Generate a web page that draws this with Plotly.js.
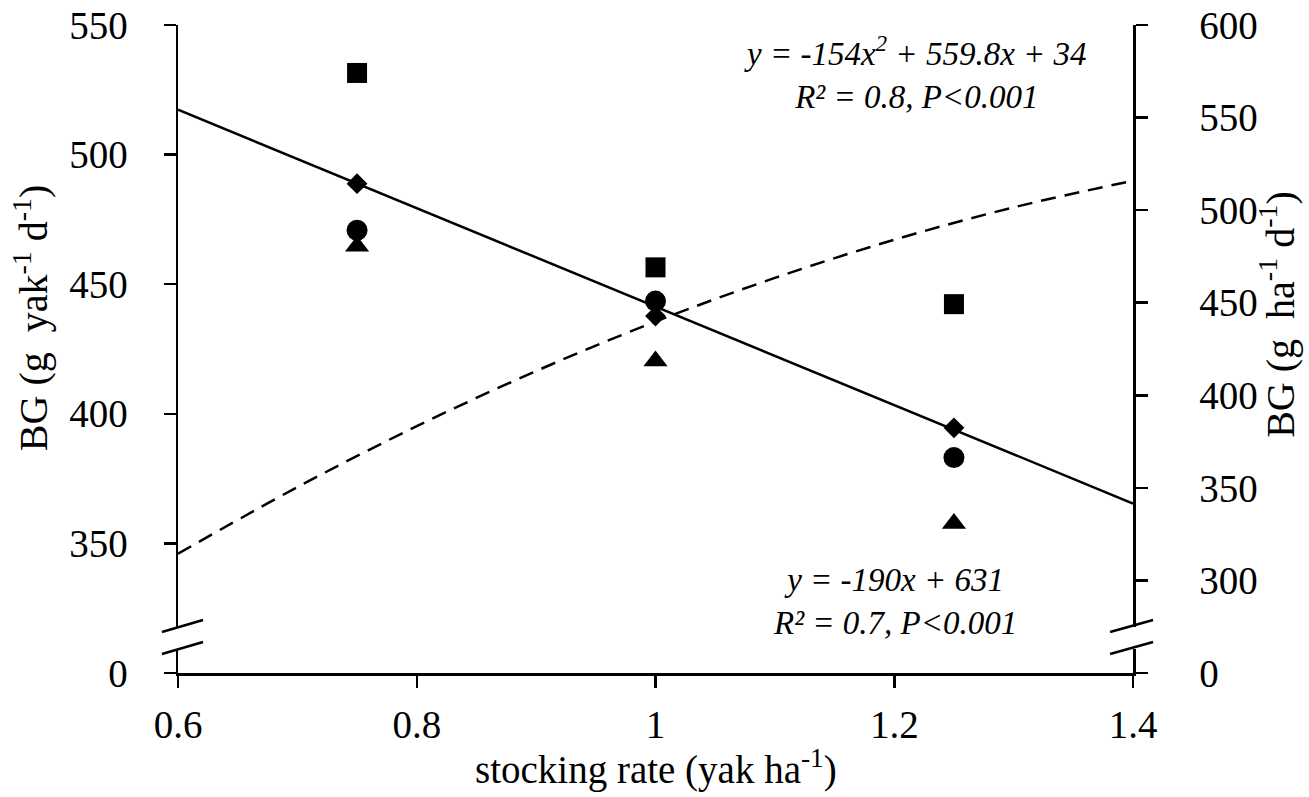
<!DOCTYPE html>
<html>
<head>
<meta charset="utf-8">
<script src="https://cdn.plot.ly/plotly-3.0.1.min.js"></script>
<style>html,body{margin:0;padding:0;background:#fff;}#chart{width:1309px;height:797px;}</style>
</head>
<body>
<div id="chart"></div>
<script>
// ---- data ----
const stockingRate = [0.75, 1.0, 1.25];
const squareVals   = [531.5, 456.5, 442.3];
const diamondVals  = [488.8, 437.7, 394.6];
const circleVals   = [470.8, 443.5, 383.1];
const triangleVals = [464.6, 420.4, 357.7];

// linear fit (left axis), read at ends of x range
const linFitX = [0.6, 1.4];
const linFitY = [517.3, 365.4];

// quadratic fit (right axis)
const quadFitX = [0.6, 0.7, 0.8, 0.9, 1.0, 1.1, 1.2, 1.3, 1.4];
const quadFitY = [314.4, 350.4, 383.3, 413.1, 439.8, 463.4, 484.0, 501.5, 515.9];

const xTickVals = [0.6, 0.8, 1.0, 1.2, 1.4];
const xTickText = ["0.6", "0.8", "1", "1.2", "1.4"];
const yLeftTickVals = [300, 350, 400, 450, 500, 550];
const yLeftTickText = ["0", "350", "400", "450", "500", "550"];
const yRightTickVals = [250, 300, 350, 400, 450, 500, 550, 600];
const yRightTickText = ["0", "300", "350", "400", "450", "500", "550", "600"];

const FONT = "Liberation Serif, Times New Roman, serif";
const TICK = 39, TITLE = 40, ANN = 33;

const traces = [
  {x: linFitX, y: linFitY, mode: 'lines', line: {color: '#000', width: 2.5}, yaxis: 'y', hoverinfo: 'skip'},
  {x: quadFitX, y: quadFitY, mode: 'lines', line: {color: '#000', width: 2.5, dash: '15px,9px', shape: 'spline'}, yaxis: 'y2', hoverinfo: 'skip'},
  {x: stockingRate, y: squareVals, mode: 'markers', marker: {symbol: 'square', size: 20, color: '#000'}, yaxis: 'y'},
  {x: stockingRate, y: diamondVals, mode: 'markers', marker: {symbol: 'diamond', size: 16, color: '#000'}, yaxis: 'y'},
  {x: stockingRate, y: circleVals, mode: 'markers', marker: {symbol: 'circle', size: 21, color: '#000'}, yaxis: 'y'},
  {x: stockingRate, y: triangleVals, mode: 'markers', marker: {symbol: 'triangle-up', size: 21, color: '#000'}, yaxis: 'y'}
];

const brk = (x0, x1) => [
  {type: 'rect', xref: 'paper', yref: 'paper', x0: x0 + 0.012, x1: x1 - 0.012, y0: 0.037, y1: 0.071, fillcolor: '#fff', line: {width: 0}, layer: 'above'},
  {type: 'line', xref: 'paper', yref: 'paper', x0: x0, x1: x1, y0: 0.0633, y1: 0.0818, line: {color: '#000', width: 2.5}, layer: 'above'},
  {type: 'line', xref: 'paper', yref: 'paper', x0: x0, x1: x1, y0: 0.0293, y1: 0.0478, line: {color: '#000', width: 2.5}, layer: 'above'}
];

const axisCommon = {
  showgrid: false, zeroline: false, showline: true, linecolor: '#000', linewidth: 2.5,
  ticks: 'outside', ticklen: 12, tickwidth: 2.5, tickcolor: '#000',
  tickfont: {family: FONT, size: TICK, color: '#000'}
};

const layout = {
  width: 1309, height: 797,
  margin: {l: 178, r: 176, t: 25, b: 124},
  paper_bgcolor: '#fff', plot_bgcolor: '#fff',
  showlegend: false,
  font: {family: FONT, color: '#000', size: TICK},
  xaxis: Object.assign({}, axisCommon, {
    range: [0.6, 1.4], tickvals: xTickVals, ticktext: xTickText, ticklabelstandoff: 4
  }),
  yaxis: Object.assign({}, axisCommon, {
    range: [300, 550], tickvals: yLeftTickVals, ticktext: yLeftTickText, ticklabelstandoff: 28
  }),
  yaxis2: Object.assign({}, axisCommon, {
    range: [250, 600], tickvals: yRightTickVals, ticktext: yRightTickText,
    overlaying: 'y', side: 'right', ticklabelstandoff: 44
  }),
  shapes: [...brk(-0.0168, 0.0262), ...brk(0.976, 1.021)],
  annotations: [
    {xref: 'paper', yref: 'paper', x: -0.154, y: 0.549, xanchor: 'center', yanchor: 'middle', text: 'BG (g  yak<sup>-1</sup> d<sup>-1</sup>)', textangle: -90, showarrow: false, font: {family: FONT, size: TITLE, color: '#000'}},
    {xref: 'paper', yref: 'paper', x: 1.152, y: 0.553, xanchor: 'center', yanchor: 'middle', text: 'BG (g  ha<sup>-1</sup> d<sup>-1</sup>)', textangle: -90, showarrow: false, font: {family: FONT, size: TITLE, color: '#000'}},
    {xref: 'paper', yref: 'paper', x: 0.5, y: -0.146, xanchor: 'center', yanchor: 'middle', text: 'stocking rate (yak ha<sup>-1</sup>)', showarrow: false, font: {family: FONT, size: 39, color: '#000'}},
    {xref: 'paper', yref: 'paper', x: 0.772, y: 0.926, xanchor: 'center', yanchor: 'middle', text: '<i>y = -154x<sup>2</sup> + 559.8x + 34</i><br><i>R² = 0.8, P<0.001</i>', showarrow: false, align: 'center', font: {family: FONT, size: ANN, color: '#000'}},
    {xref: 'paper', yref: 'paper', x: 0.751, y: 0.111, xanchor: 'center', yanchor: 'middle', text: '<i>y = -190x + 631</i><br><i>R² = 0.7, P<0.001</i>', showarrow: false, align: 'center', font: {family: FONT, size: ANN, color: '#000'}}
  ]
};

Plotly.newPlot('chart', traces, layout, {displayModeBar: false, staticPlot: true});
</script>
</body>
</html>
